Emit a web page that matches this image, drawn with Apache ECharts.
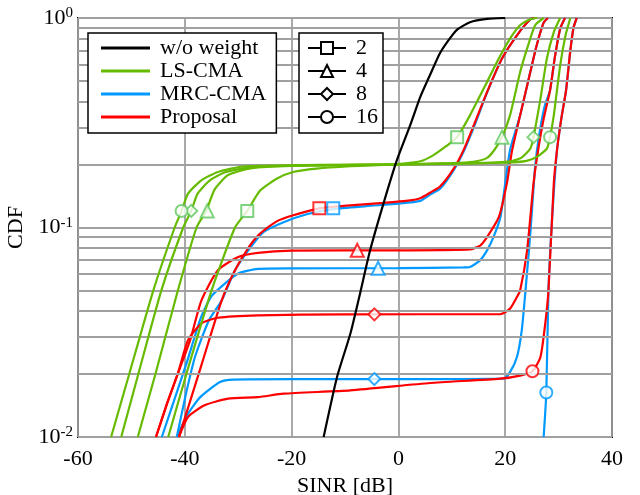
<!DOCTYPE html>
<html><head><meta charset="utf-8">
<script src="https://cdn.jsdelivr.net/npm/echarts@6/dist/echarts.min.js"></script>
<style>html,body{margin:0;padding:0;background:#fff}#c{width:640px;height:495px}</style>
</head><body><div id="c"></div>
<script>
// ---- data (x: SINR dB, y: CDF) ----
const methodNames = ['w/o weight', 'LS-CMA', 'MRC-CMA', 'Proposal'];
const sizeNames = ['2', '4', '8', '16'];
const xTicks = [-60, -40, -20, 0, 20, 40];
const yTicks = [0.01, 0.1, 1];
const minorGrid = [0.02,0.03,0.04,0.05,0.06,0.07,0.08,0.09,0.2,0.3,0.4,0.5,0.6,0.7,0.8,0.9];

const woWeight = [[-14,0.01],[-11.5,0.0193],[-9,0.0311],[-7.3,0.047],[-5.3,0.0778],[-2.8,0.13],[-0.3,0.209],[2.2,0.307],[4.1,0.42],[6,0.54],[7.8,0.68],[9.5,0.79],[11,0.88],[13.4,0.955],[16.6,0.99],[20,1]];

const ls2 = [[-43.1,0.01],[-39.7,0.02],[-35,0.05],[-30.6,0.1],[-28.3,0.12],[-25.9,0.15],[-22.8,0.171],[-19.7,0.184],[-15.3,0.191],[-9,0.196],[-3,0.199],[1,0.202],[4.1,0.207],[6.5,0.221],[9,0.245],[11,0.27],[13.4,0.343],[16.6,0.495],[18.8,0.64],[20.9,0.797],[22.8,0.923],[24.7,0.986],[26,1]];
const ls4 = [[-48.8,0.01],[-45.5,0.02],[-41.3,0.05],[-37.8,0.1],[-36,0.12],[-34.4,0.152],[-31.9,0.178],[-27.5,0.192],[-20,0.197],[0,0.2],[10,0.203],[14,0.206],[16.6,0.215],[18,0.235],[19.4,0.27],[20.9,0.343],[22.8,0.552],[24.1,0.714],[25.6,0.923],[27.2,1]];
const ls8 = [[-51.9,0.01],[-48.7,0.02],[-44.4,0.05],[-40.3,0.1],[-38.8,0.12],[-37.6,0.145],[-35.3,0.168],[-32.3,0.184],[-27,0.195],[-15,0.198],[0,0.2],[15,0.203],[21,0.207],[23,0.215],[24.7,0.238],[25.3,0.27],[26.6,0.412],[27.8,0.64],[29.1,0.857],[30.3,1]];
const ls16 = [[-53.8,0.01],[-50.4,0.02],[-45.9,0.05],[-41.9,0.1],[-40.6,0.12],[-39.4,0.145],[-36.9,0.168],[-33.8,0.184],[-28.8,0.196],[-15,0.199],[0,0.2],[20,0.204],[24,0.208],[26,0.218],[27.8,0.238],[28.4,0.27],[29.1,0.343],[30.3,0.595],[31.3,0.827],[32.2,1]];

const prop2 = [[-41.1,0.01],[-36.8,0.0224],[-33.1,0.0448],[-30.6,0.0625],[-28.1,0.08],[-26,0.093],[-22.8,0.107],[-19.7,0.1144],[-14.8,0.1235],[-9,0.1276],[-2.8,0.131],[2.2,0.1346],[4.1,0.138],[6,0.147],[7.8,0.157],[10.3,0.19],[12.2,0.234],[14.1,0.307],[16.6,0.443],[19.4,0.64],[22.2,0.827],[24.7,0.986],[25.5,1]];
const prop4 = [[-45.4,0.01],[-43.3,0.0145],[-41.3,0.0201],[-39,0.029],[-36.9,0.0448],[-33.8,0.0625],[-30,0.0723],[-26.3,0.0757],[-20,0.0775],[0,0.0778],[13.4,0.0786],[15.3,0.082],[16.6,0.09],[18.8,0.112],[20.3,0.162],[21.3,0.234],[22.8,0.343],[24.7,0.552],[25.9,0.741],[27.2,0.95],[28,1]];
const prop8 = [[-45.4,0.01],[-43.3,0.0145],[-41.3,0.0201],[-39.4,0.029],[-36.9,0.0348],[-33.8,0.0371],[-26.3,0.0381],[-10,0.0385],[19.1,0.0386],[20.9,0.041],[22.2,0.0466],[22.8,0.05],[24.1,0.0778],[25.3,0.162],[26,0.22],[27.2,0.33],[28.4,0.452],[29.3,0.65],[30.3,0.89],[31.2,1]];
const prop16 = [[-41.1,0.01],[-39.4,0.01246],[-36.3,0.01417],[-31.9,0.01525],[-26.3,0.0155],[-21.5,0.0161],[-9,0.0167],[5.95,0.0181],[19.1,0.019],[23,0.0197],[25.1,0.0206],[26.6,0.0241],[27.5,0.0348],[28.1,0.05],[29.1,0.162],[29.7,0.234],[30.5,0.33],[31.4,0.452],[32.2,0.7],[32.8,0.9],[33.4,1]];

const mrc2 = [[-41.5,0.01],[-39.8,0.016],[-38.1,0.0241],[-35.5,0.036],[-33.1,0.0448],[-30.6,0.0625],[-28.1,0.0778],[-25.3,0.095],[-21.5,0.106],[-17,0.116],[-12.2,0.1225],[-6,0.1265],[0,0.13],[4.1,0.134],[6,0.144],[7.8,0.153],[10.3,0.187],[12.2,0.23],[14.1,0.3],[16.6,0.44],[19.4,0.64],[22.2,0.827],[24.7,0.986],[25.5,1]];
const mrc4 = [[-44.3,0.01],[-39.7,0.0224],[-37,0.037],[-35,0.047],[-32.5,0.054],[-30,0.0603],[-26.3,0.0635],[-20,0.0638],[0,0.064],[12.2,0.0645],[13.4,0.0648],[15.3,0.0697],[16.6,0.0778],[17.8,0.09],[19.1,0.112],[20,0.162],[20.9,0.234],[22.8,0.343],[24.7,0.552],[25.9,0.741],[27.2,0.95],[28,1]];
const mrc8 = [[-41.5,0.01],[-39.5,0.0128],[-37.1,0.0155],[-33.4,0.0183],[-30.9,0.0188],[-20,0.0189],[0,0.0189],[19.7,0.019],[20.9,0.0204],[22.2,0.0241],[23.1,0.0323],[23.8,0.05],[24.7,0.0935],[25.6,0.194],[26.3,0.27],[27.4,0.38],[28.4,0.452],[29.3,0.65],[30.3,0.89],[31.2,1]];
const mrc16 = [[27.2,0.01],[27.7,0.0163],[28.1,0.05],[28.8,0.112],[29.7,0.234],[30.5,0.33],[31.4,0.452],[32.2,0.7],[32.8,0.9],[33.4,1]];

// marker positions per curve
const lsMarks = {'2': [[-28.3,0.12],[11.0,0.27]], '4': [[-35.8,0.12],[19.4,0.27]], '8': [[-38.8,0.12],[25.3,0.27]], '16': [[-40.6,0.12],[28.4,0.27]]};
const propMarks = {'2': [[-14.8,0.1235]], '4': [[-7.7,0.0778]], '8': [[-4.5,0.0385]], '16': [[25.1,0.0206]]};
const mrcMarks = {'2': [[-12.2,0.1235]], '4': [[-3.8,0.0639]], '8': [[-4.5,0.0189]], '16': [[27.7,0.0163]]};

// ---- styling ----
const FONT = "'Liberation Serif','Times New Roman',serif";
const C = {black:'#000000', ls:'#66bb00', lsMark:'#5dc85d', mrc:'#0099ff', prop:'#ff0000'};
const SYM = {'2':'rect','4':'triangle','8':'diamond','16':'circle'};

function line(name, data, color, z) {
  return {type:'line', name, data, symbol:'none', z, silent:true, smooth:0.2,
    lineStyle:{color, width:2.2}, itemStyle:{color}, animation:false, clip:true};
}
function marks(name, pts, size, color, z) {
  return {type:'scatter', name, data:pts, symbol:SYM[size], symbolSize: size==='4'?13:12, z,
    itemStyle:{color:'#ffffff', borderColor:color, borderWidth:2}, animation:false, silent:true};
}

const series = [];
series.push({type:'line', name:'grid', data:[], z:1, silent:true, animation:false,
  markLine:{silent:true, symbol:['none','none'], label:{show:false}, animation:false,
    lineStyle:{color:'#a0a0a0', width:1.8, type:'solid'},
    data: minorGrid.map(v=>({yAxis:v}))}});
[mrc2,mrc4,mrc8,mrc16].forEach(d=>series.push(line('MRC-CMA', d, C.mrc, 3)));
[prop2,prop4,prop8,prop16].forEach(d=>series.push(line('Proposal', d, C.prop, 4)));
[ls2,ls4,ls8,ls16].forEach(d=>series.push(line('LS-CMA', d, C.ls, 5)));
series.push(line('w/o weight', woWeight, C.black, 6));
sizeNames.forEach(s=>{
  series.push(marks('mk-ls-'+s, lsMarks[s], s, C.lsMark, 10));
  series.push(marks('mk-prop-'+s, propMarks[s], s, C.prop, 10));
  series.push(marks('mk-mrc-'+s, mrcMarks[s], s, C.mrc, 10));
});
// legend-only series for marker meaning
sizeNames.forEach(s=>series.push({type:'line', name:s, data:[], symbol:SYM[s], symbolSize:12,
  lineStyle:{color:'#000', width:2}, itemStyle:{color:'#fff', borderColor:'#000', borderWidth:2}}));

const option = {
  backgroundColor:'#ffffff',
  animation:false,
  textStyle:{fontFamily:FONT},
  grid:{left:78, right:28, top:18, bottom:58, show:true, borderColor:'#000', borderWidth:2,
    backgroundColor:'transparent', containLabel:false, outerBoundsMode:'none'},
  legend:[{
    data: methodNames.map((n,i)=>({name:n, itemStyle:{color:[C.black,C.ls,C.mrc,C.prop][i]}})),
    orient:'vertical', left:88, top:33, icon:'rect', itemWidth:49, itemHeight:3, itemGap:1,
    padding:[4,10,5,13], borderColor:'#000', borderWidth:1.5, backgroundColor:'#fff',
    selectedMode:false, z:20,
    textStyle:{fontFamily:FONT, fontSize:22, color:'#000', lineHeight:22, padding:[0,0,0,5]}
  },{
    data: sizeNames,
    orient:'vertical', left:299, top:33, itemWidth:38, itemHeight:15, itemGap:1,
    padding:[4,5,5,8], borderColor:'#000', borderWidth:1.5, backgroundColor:'#fff',
    selectedMode:false, z:20,
    lineStyle:{color:'#000', width:2},
    itemStyle:{color:'#fff', borderColor:'#000', borderWidth:2},
    textStyle:{fontFamily:FONT, fontSize:22, color:'#000', lineHeight:22, padding:[0,0,0,5]}
  }],
  xAxis:{type:'value', min:xTicks[0], max:xTicks[xTicks.length-1], interval:20,
    name:'SINR [dB]', nameLocation:'middle', nameGap:35,
    nameTextStyle:{fontFamily:FONT, fontSize:22, color:'#000', lineHeight:22},
    axisLine:{show:false}, axisTick:{show:false},
    axisLabel:{fontFamily:FONT, fontSize:22, color:'#000', margin:11, lineHeight:22},
    splitLine:{show:true, lineStyle:{color:'#a0a0a0', width:1.8}}},
  yAxis:{type:'log', logBase:10, min:yTicks[0], max:yTicks[yTicks.length-1],
    name:'CDF', nameLocation:'middle', nameGap:46,
    nameTextStyle:{fontFamily:FONT, fontSize:22, color:'#000'},
    axisLine:{show:false}, axisTick:{show:false},
    axisLabel:{margin:5, formatter:v=>'{b|10}{s|'+Math.round(Math.log10(v))+'}',
      rich:{b:{fontFamily:FONT, fontSize:22, color:'#000', lineHeight:24},
            s:{fontFamily:FONT, fontSize:15, color:'#000', verticalAlign:'top', lineHeight:15}}},
    splitLine:{show:true, lineStyle:{color:'#a0a0a0', width:1.8}}},
  series
};
const chart = echarts.init(document.getElementById('c'), null, {renderer:'canvas'});
chart.setOption(option);
</script></body></html>
